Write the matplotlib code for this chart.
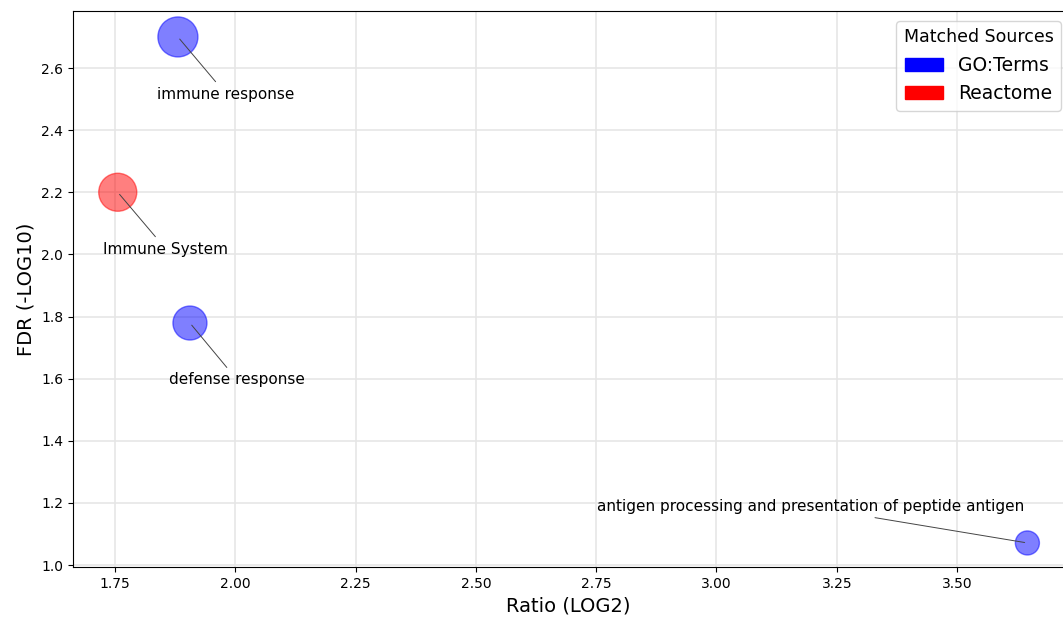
import matplotlib.pyplot as plt
import matplotlib.patches as mpatches

terms = ["immune response", "Immune System", "defense response",
         "antigen processing and presentation of peptide antigen"]
ratio = [1.881, 1.756, 1.906, 3.646]
fdr = [2.70, 2.20, 1.779, 1.071]
sizes = [830, 750, 600, 300]
sources = ["GO:Terms", "Reactome", "GO:Terms", "GO:Terms"]
label_x = [1.981, 1.856, 2.004, 3.195]
label_y = [2.516, 2.017, 1.596, 1.187]

colors = {"GO:Terms": "blue", "Reactome": "red"}

fig = plt.figure(figsize=(10.63, 6.17), dpi=100)
ax = fig.add_axes([73 / 1063, 50 / 617, 990 / 1063, 556 / 617])

ax.scatter(ratio, fdr, s=sizes, c=[colors[s] for s in sources], alpha=0.5, zorder=3)

for t, x, y, tx, ty in zip(terms, ratio, fdr, label_x, label_y):
    ax.annotate(t, xy=(x, y), xytext=(tx, ty), ha="center", va="center", fontsize=11,
                arrowprops=dict(arrowstyle="-", color="#444444", lw=0.7), zorder=4)

ax.set_xlim(1.663, 3.72)
ax.set_ylim(0.9936, 2.7835)
ax.set_xticks([1.75, 2.0, 2.25, 2.5, 2.75, 3.0, 3.25, 3.5])
ax.set_yticks([1.0, 1.2, 1.4, 1.6, 1.8, 2.0, 2.2, 2.4, 2.6])
ax.grid(True, color="#e6e6e6", lw=1.2)
ax.set_axisbelow(True)
ax.spines["right"].set_visible(False)
ax.tick_params(labelsize=10)

ax.set_xlabel("Ratio (LOG2)", fontsize=14)
ax.set_ylabel("FDR (-LOG10)", fontsize=14)

handles = [mpatches.Patch(color="blue", label="GO:Terms"),
           mpatches.Patch(color="red", label="Reactome")]
ax.legend(handles=handles, title="Matched Sources", loc="upper right",
          bbox_to_anchor=(1 - 2 / 990, 1 - 10 / 556), borderaxespad=0,
          fontsize=13.5, title_fontsize=12.5)

fig.savefig("out.png", dpi=100)
